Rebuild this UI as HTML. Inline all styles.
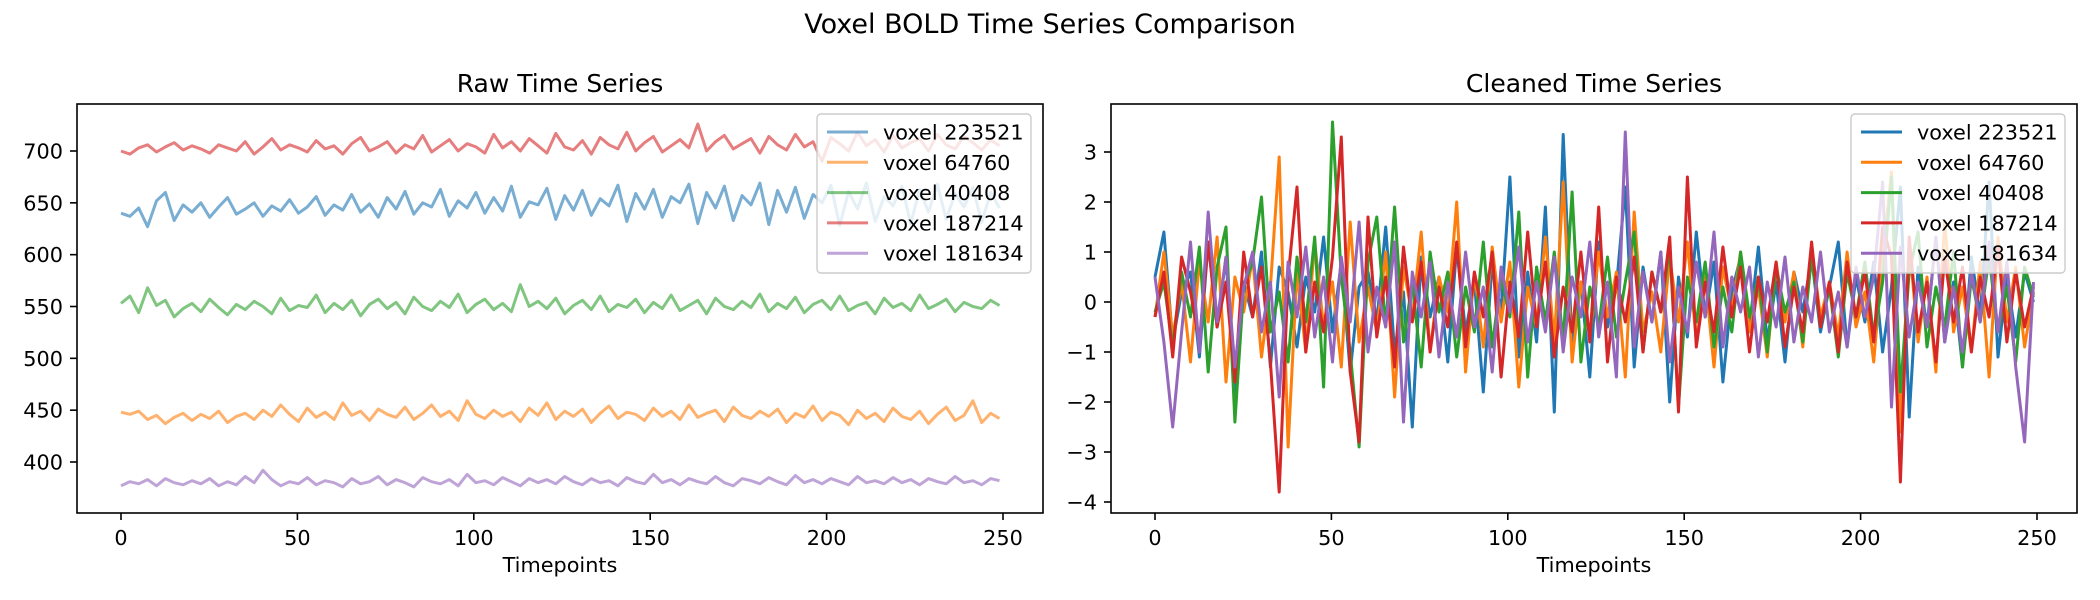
<!DOCTYPE html>
<html><head><meta charset="utf-8"><style>
html,body{margin:0;padding:0;background:#fff;}
svg{display:block;font-family:"DejaVu Sans","Liberation Sans",sans-serif;}
</style></head><body>
<svg id="fig" width="2100" height="600" viewBox="0 0 2100 600" xmlns="http://www.w3.org/2000/svg">
<text x="1050" y="33" font-size="27" text-anchor="middle">Voxel BOLD Time Series Comparison</text>
<g id="left"></g>
<g id="right"></g>
</svg>
<script>
const seriesNames = ["voxel 223521","voxel 64760","voxel 40408","voxel 187214","voxel 181634"];
const colors = ["#1f77b4","#ff7f0e","#2ca02c","#d62728","#9467bd"];
const xTicks = [0,50,100,150,200,250];
const rawYTicks = [400,450,500,550,600,650,700];
const cleanYTicks = [-4,-3,-2,-1,0,1,2,3];
const tMax = 249;

const rawBlue = [640,637,645,627,652,660,633,648,641,650,636,646,655,639,644,650,637,647,642,653,640,646,656,638,648,643,658,641,649,636,655,644,661,639,650,646,663,637,652,645,660,640,655,642,666,636,651,648,664,634,657,643,662,638,654,647,667,632,659,644,663,636,656,650,668,630,660,645,666,633,657,648,669,629,662,641,665,635,658,650,667,628,661,644,669,632,656,647,666,630,663,641,668,634,659,646,665,631,660,645];
const rawOrange = [448,446,449,441,445,437,443,447,440,446,442,449,438,444,447,441,450,444,455,446,439,452,443,448,441,457,445,449,440,451,446,443,453,441,447,455,444,449,440,459,446,442,450,444,448,439,452,445,457,441,449,444,451,438,447,454,442,448,446,440,452,444,449,441,455,443,447,450,439,453,445,442,449,444,451,438,447,443,454,440,448,445,436,450,442,447,439,452,444,441,449,437,446,453,440,445,459,438,447,442];
const rawGreen = [553,560,544,568,551,556,540,548,553,545,557,549,542,552,547,555,550,543,558,546,551,549,561,544,553,547,556,541,552,557,548,554,543,559,550,546,555,549,562,544,552,557,547,553,545,571,550,555,548,558,543,551,556,547,560,545,552,549,557,544,554,548,561,546,551,556,543,558,550,547,555,549,562,545,553,548,559,544,552,556,547,560,546,551,554,543,558,549,553,546,561,548,552,557,545,554,550,548,556,551];
const rawRed = [700,697,703,706,699,704,708,701,705,702,698,706,703,700,709,697,704,712,701,706,703,699,710,702,705,697,707,713,700,704,709,698,706,702,715,699,705,711,700,707,704,698,716,703,709,700,712,705,698,717,704,701,710,697,713,706,702,718,700,708,714,699,705,711,703,726,700,709,715,702,707,712,698,714,706,701,716,704,709,690,713,707,700,718,705,711,699,715,703,708,712,700,716,706,702,714,708,701,711,705];
const rawPurple = [377,381,379,383,377,384,380,378,382,379,384,377,381,378,386,380,392,383,377,381,379,385,378,382,380,376,384,379,381,386,378,383,380,376,385,381,379,383,377,388,380,382,378,385,381,377,384,380,383,379,386,381,378,384,380,382,377,385,381,379,388,380,383,378,384,381,379,386,380,377,384,382,379,385,381,378,387,380,383,379,384,381,378,386,380,382,379,385,380,383,378,384,381,379,386,380,382,378,384,382];

const cleanBlue = [0.5,1.4,-0.8,0.2,0.6,-1.1,1.2,-0.5,0.9,-1.9,0.4,-0.3,1.0,-1.3,0.7,0.2,-0.9,0.5,-0.2,1.3,-0.6,0.8,-1.4,0.3,0.6,-0.4,1.5,-1.0,0.2,-2.5,0.9,-0.3,0.5,-1.2,1.1,-0.6,0.4,-1.8,0.8,-0.2,2.5,-1.1,0.6,-0.8,1.9,-2.2,3.35,-0.9,0.4,-1.5,1.2,-0.5,0.3,2.3,-1.3,0.7,-0.4,1.0,-2.0,0.5,-0.7,1.4,-0.3,0.8,-1.6,0.2,0.9,-0.5,1.1,-0.8,0.4,-1.2,0.6,-0.2,0.9,-0.6,0.3,1.2,-0.9,0.5,-0.4,0.8,-1.0,0.3,2.3,-2.3,0.7,-0.5,1.3,-0.8,0.4,-1.3,0.9,-0.3,2.4,-1.1,0.5,-0.7,0.6,0.0];
const cleanOrange = [-0.3,1.0,-0.7,0.4,-1.2,0.8,-0.4,1.3,-1.6,0.5,-0.2,0.9,-1.1,0.3,2.9,-2.9,0.6,-1.0,1.2,-0.5,0.4,-1.3,1.6,-0.8,0.3,-0.6,1.0,-1.9,0.7,-0.3,1.4,-1.0,0.5,-0.2,2.0,-1.4,0.6,-0.9,1.1,-0.4,0.8,-1.7,0.3,-0.5,1.3,-0.8,2.4,-1.2,0.4,-0.7,1.0,-0.3,0.6,-1.5,1.8,-0.6,0.2,-1.0,0.9,-0.4,1.2,-0.8,0.5,-1.3,0.7,-0.2,1.0,-0.6,0.3,-1.1,0.8,-0.4,0.6,-0.9,1.1,-0.3,0.4,-0.7,1.0,-0.5,0.2,-1.2,0.9,2.6,-2.6,1.2,-0.8,0.5,-1.4,1.6,-0.6,0.3,-1.0,0.8,-1.5,1.3,-0.4,0.7,-0.9,0.2];
const cleanGreen = [-0.2,0.4,-0.9,0.6,-0.3,1.1,-1.4,0.7,1.5,-2.4,0.3,0.8,2.1,-0.6,0.2,-1.2,0.9,-0.4,1.3,-1.7,3.6,0.5,-1.0,-2.9,0.8,1.7,-0.5,1.9,-0.8,0.4,-1.3,1.0,-0.2,0.6,-1.1,0.3,-0.6,1.2,-0.9,0.5,-0.3,1.8,-1.5,0.7,-0.4,1.0,-0.8,2.2,-1.2,0.3,-0.5,0.9,-0.7,0.4,1.4,-1.0,0.6,-0.2,1.1,-2.1,0.5,-0.4,0.8,-0.9,0.3,-0.6,1.0,-0.3,0.5,-1.0,0.7,-0.2,0.4,-0.8,0.9,-0.5,0.3,-1.1,0.6,-0.3,0.8,-0.7,0.4,2.5,-1.8,0.6,1.4,-0.9,0.3,-0.5,1.0,-1.3,0.5,-0.4,0.9,-0.6,0.3,-1.2,0.7,0.1];
const cleanRed = [-0.3,0.6,-1.1,0.9,0.2,-0.8,1.2,-0.5,0.4,-1.6,1.0,-0.3,0.7,-1.2,-3.8,0.5,2.3,-1.0,0.4,-0.6,0.9,3.3,-1.4,-2.8,1.7,-0.7,0.5,-1.3,1.1,-0.4,0.8,-1.0,0.3,-0.5,1.2,-0.9,0.6,-0.3,1.0,-1.5,0.4,-0.7,1.4,-0.5,0.8,-1.1,0.3,-0.6,1.0,-0.8,1.9,-1.2,0.5,-0.4,0.9,-1.0,0.6,-0.2,1.3,-2.2,2.5,-0.9,0.4,-0.6,1.1,-0.3,0.7,-1.0,0.5,-0.4,0.8,-0.9,0.3,-0.6,1.2,-0.5,0.4,-1.0,0.8,-0.3,0.6,-0.8,1.5,0.9,-3.6,1.3,-0.6,0.4,-1.2,0.9,-0.4,0.7,-1.0,0.5,-0.3,1.1,-0.8,0.6,-0.5,0.3];
const cleanPurple = [0.5,-0.8,-2.5,-0.6,1.2,-1.0,1.8,-0.4,0.9,-1.3,0.3,1.0,-0.6,0.4,-1.9,0.8,-0.3,1.1,-0.7,0.5,-1.2,0.9,-0.4,1.6,-1.0,0.3,-0.5,1.2,-2.4,0.6,-0.3,0.8,-1.1,0.4,-0.7,1.0,-0.5,0.3,-1.4,0.7,-0.2,1.1,-0.8,0.4,-0.6,0.9,-1.0,0.5,-0.3,1.2,-0.7,0.4,-1.5,3.4,-0.9,0.6,-0.4,1.0,-1.2,0.3,-0.6,0.8,-0.3,1.4,-0.9,0.5,-0.2,0.7,-1.1,0.4,-0.5,0.9,-0.8,0.3,-0.4,1.0,-0.6,0.2,-0.9,0.7,-0.3,0.5,2.4,-2.1,1.1,-0.7,0.4,-0.5,1.3,-0.8,0.3,-1.0,0.6,-0.4,1.2,-0.6,0.8,-1.3,-2.8,0.4];

const NS = "http://www.w3.org/2000/svg";
function mk(parent, tag, attrs){ const e=document.createElementNS(NS,tag); for(const k in attrs) e.setAttribute(k,attrs[k]); parent.appendChild(e); return e; }

function panel(g, L, title, yTicks, yMin, yMax, series, alpha){
  const T=104, B=513, R=L+966;
  const x0 = L+44, xs = (882)/250;
  const X = v => x0 + v*xs;
  const Y = v => B - (v - yMin)/(yMax - yMin)*(B-T);
  const t = mk(g,'text',{x:(L+R)/2,y:92,'font-size':25,'text-anchor':'middle'});
  
  
  t.textContent=title;
  const clip = mk(g,'clipPath',{id:'c'+L}); mk(clip,'rect',{x:L,y:T,width:R-L,height:B-T});
  const lines = mk(g,'g',{'clip-path':'url(#c'+L+')'});
  series.forEach((s,k)=>{
    const n=s.length;
    const d=s.map((v,i)=>(i?'L':'M')+X(i*tMax/(n-1)).toFixed(1)+','+Y(v).toFixed(1)).join('');
    const p=mk(lines,'path',{d:d,fill:'none',stroke:colors[k],'stroke-width':3,'stroke-opacity':alpha,'stroke-linejoin':'round'});
    
    
  });
  xTicks.forEach(v=>{
    mk(g,'line',{x1:X(v),x2:X(v),y1:B,y2:B+7,stroke:'#000','stroke-width':1.6});
    const tx=mk(g,'text',{x:X(v),y:545,'font-size':20.8,'text-anchor':'middle'});
    
    
    tx.textContent=v;
  });
  yTicks.forEach(v=>{
    mk(g,'line',{x1:L-7,x2:L,y1:Y(v),y2:Y(v),stroke:'#000','stroke-width':1.6});
    const ty=mk(g,'text',{x:L-14,y:Y(v)+7.5,'font-size':20.8,'text-anchor':'end'});
    
    
    ty.textContent=String(v).replace('-','\u2212');
  });
  const fr=mk(g,'rect',{x:L,y:T,width:R-L,height:B-T,fill:'none',stroke:'#000','stroke-width':1.6});
  
  
  const xl=mk(g,'text',{x:(L+R)/2,y:572,'font-size':20.8,'text-anchor':'middle'});
  
  
  xl.textContent='Timepoints';
  const lg=mk(g,'g',{});
  
  
  const lx=R-12-214;
  mk(lg,'rect',{x:lx,y:114,width:214,height:159,rx:4,fill:'rgba(255,255,255,0.8)',stroke:'#ccc','stroke-width':1.4});
  seriesNames.forEach((nm,k)=>{
    const cy=132+k*30.3;
    const e=mk(lg,'g',{});
    
    
    mk(e,'line',{x1:lx+10,x2:lx+51,y1:cy,y2:cy,stroke:colors[k],'stroke-width':3,'stroke-opacity':alpha});
    const tt=mk(e,'text',{x:lx+66,y:cy+7.5,'font-size':20.8});
    tt.textContent=nm;
  });
}
panel(document.getElementById('left'),77,'Raw Time Series',rawYTicks,
  400-(513-462)/1.0367, 700+(151-104)/1.0367,
  [rawBlue,rawOrange,rawGreen,rawRed,rawPurple],0.6);
panel(document.getElementById('right'),1111,'Cleaned Time Series',cleanYTicks,
  -4-(513-502)/50, 3+(152-104)/50,
  [cleanBlue,cleanOrange,cleanGreen,cleanRed,cleanPurple],1);
</script>
</body></html>
